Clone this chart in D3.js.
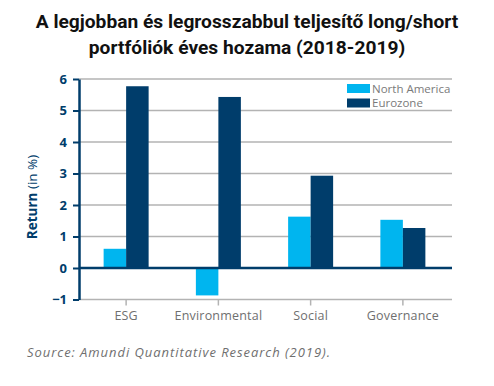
<!DOCTYPE html>
<html>
<head>
<meta charset="utf-8">
<script src="https://cdn.jsdelivr.net/npm/d3@7"></script>
<style>
  body { margin: 0; background: #fff; }
  svg { display: block; }
  .grid line { stroke: #b3b3b3; stroke-width: 1.5; }
</style>
</head>
<body>
<div id="chart"></div>
<script>
var categories = ["ESG", "Environmental", "Social", "Governance"];
var seriesNames = ["North America", "Eurozone"];
var northAmerica = [0.61, -0.87, 1.63, 1.53];
var eurozone = [5.77, 5.43, 2.93, 1.27];
var yTicks = [-1, 0, 1, 2, 3, 4, 5, 6];

var colors = {"North America": "#00b5ef", "Eurozone": "#003d6b"};
var navy = "#003d6b";

var W = 494, H = 386;
var plot = {left: 79, right: 452, top: 79, bottom: 299.5};

var svg = d3.select("#chart").append("svg")
    .attr("width", W)
    .attr("height", H);

// title
svg.append("text")
    .attr("x", 247).attr("y", 28)
    .attr("text-anchor", "middle")
    .style("font-family", "Roboto")
    .style("font-weight", "bold")
    .style("font-size", "19.2px")
    .attr("fill", "#111")
    .text("A legjobban és legrosszabbul teljesítő long/short");
svg.append("text")
    .attr("x", 247).attr("y", 54)
    .attr("text-anchor", "middle")
    .style("font-family", "Roboto")
    .style("font-weight", "bold")
    .style("font-size", "19.2px")
    .attr("fill", "#111")
    .text("portfóliók éves hozama (2018-2019)");

var x0 = d3.scaleBand()
    .domain(categories)
    .range([80, 449]);

var x1 = d3.scaleBand()
    .domain(seriesNames)
    .range([0, 45]);

var y = d3.scaleLinear()
    .domain([-1, 6])
    .range([plot.bottom, plot.top]);

// gridlines
svg.append("g")
    .attr("class", "grid")
    .selectAll("line")
    .data(yTicks.filter(function(d) { return d !== 0; }))
  .enter().append("line")
    .attr("x1", plot.left).attr("x2", plot.right)
    .attr("y1", function(d) { return y(d); })
    .attr("y2", function(d) { return y(d); });

// category ticks on bottom line
var xAxis = svg.append("g")
    .attr("transform", "translate(0," + plot.bottom + ")")
    .call(d3.axisBottom(x0).tickSize(6).tickSizeOuter(0));
xAxis.select(".domain").remove();
xAxis.selectAll(".tick line").attr("stroke", "#b3b3b3").attr("stroke-width", 1.5);
xAxis.selectAll(".tick text")
    .attr("y", 12)
    .attr("fill", "#6f6f6f")
    .style("font-family", "Open Sans")
    .style("font-size", "12.5px")
    .style("letter-spacing", "0.2px");

// bars
var rows = categories.map(function(c, i) {
  return {cat: c, vals: [
    {name: "North America", value: northAmerica[i]},
    {name: "Eurozone", value: eurozone[i]}
  ]};
});

var groups = svg.selectAll(".group")
    .data(rows)
  .enter().append("g")
    .attr("class", "group")
    .attr("transform", function(d) {
      return "translate(" + (x0(d.cat) + x0.bandwidth() / 2 - 22.5) + ",0)";
    });

groups.selectAll("rect")
    .data(function(d) { return d.vals; })
  .enter().append("rect")
    .attr("x", function(d) { return x1(d.name); })
    .attr("width", x1.bandwidth())
    .attr("y", function(d) { return y(Math.max(0, d.value)); })
    .attr("height", function(d) { return Math.abs(y(d.value) - y(0)); })
    .attr("fill", function(d) { return colors[d.name]; });

// zero line
svg.append("line")
    .attr("x1", plot.left).attr("x2", plot.right)
    .attr("y1", y(0)).attr("y2", y(0))
    .attr("stroke", navy)
    .attr("stroke-width", 2.5);

// y axis
var yAxis = svg.append("g")
    .attr("transform", "translate(" + plot.left + ",0)")
    .call(d3.axisLeft(y).tickValues(yTicks).tickFormat(d3.format("d"))
      .tickSize(6).tickSizeOuter(0).tickPadding(6));
yAxis.select(".domain").attr("stroke", navy).attr("stroke-width", 2.5);
yAxis.selectAll(".tick line").attr("stroke", navy).attr("stroke-width", 2);
yAxis.selectAll(".tick text")
    .attr("fill", navy)
    .style("font-family", "Open Sans")
    .style("font-weight", "bold")
    .style("font-size", "13px");

// y label
var yl = svg.append("text")
    .attr("transform", "translate(37,197) rotate(-90)")
    .attr("text-anchor", "middle")
    .attr("fill", navy)
    .style("font-family", "Open Sans")
    .style("font-size", "13.5px");
yl.append("tspan").style("font-weight", "bold").text("Return");
yl.append("tspan").text(" (in %)");

// legend
var legend = svg.append("g")
    .attr("transform", "translate(347,84)");
var li = legend.selectAll("g")
    .data(seriesNames)
  .enter().append("g")
    .attr("transform", function(d, i) { return "translate(0," + (i * 14.5) + ")"; });
li.append("rect")
    .attr("width", 23).attr("height", 9)
    .attr("fill", function(d) { return colors[d]; });
li.append("text")
    .attr("x", 25).attr("y", 8.5)
    .attr("fill", "#7a7a7a")
    .style("font-family", "Open Sans")
    .style("font-size", "11.5px")
    .text(function(d) { return d; });

// source
svg.append("text")
    .attr("x", 27).attr("y", 357)
    .attr("fill", "#6f6f6f")
    .style("font-family", "Open Sans")
    .style("font-style", "italic")
    .style("font-size", "13px")
    .style("letter-spacing", "0.95px")
    .text("Source: Amundi Quantitative Research (2019).");
</script>
</body>
</html>
